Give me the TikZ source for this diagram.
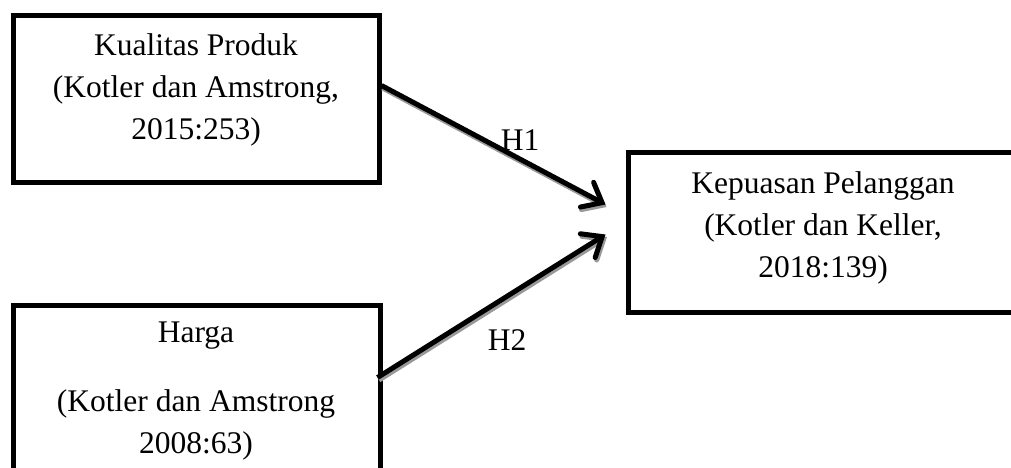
\documentclass[tikz,border=0pt]{standalone}
\usepackage{fontspec}
\setmainfont{Liberation Serif}
\usetikzlibrary{arrows.meta,calc}
\begin{document}
\begin{tikzpicture}[x=1pt,y=-1pt,
  box/.style={draw=black,line width=5pt,rectangle,inner sep=0pt},
  txt/.style={font=\fontsize{31.5}{42}\selectfont,align=center,inner sep=0pt,anchor=north},
  lbl/.style={font=\fontsize{31.5}{42}\selectfont,inner sep=0pt,anchor=base},
  conn/.style={line width=5pt,-{Straight Barb[length=17pt,width=28pt,line cap=round]}},
  shad/.style={line width=5pt,draw=black!40,-{Straight Barb[length=17pt,width=28pt,line cap=round]}}]
\useasboundingbox (0,0) rectangle (1011,467);
\clip (0,0) rectangle (1011,467);
% boxes
\node[box,minimum width=366pt,minimum height=167pt] (b1) at (196,98.5) {};
\node[box,minimum width=367pt,minimum height=200pt] (b2) at (196.5,405) {};
\node[box,minimum width=402pt,minimum height=160pt] (b3) at (829,232) {};
% texts
\node[txt] (t1) at (196,33.5) {Kualitas Produk\\(Kotler dan Amstrong,\\2015:253)};
\node[txt] (t2a) at (196,322) {Harga};
\node[txt] (t2b) at (196,389.5) {(Kotler dan Amstrong\\2008:63)};
\node[txt] (t3) at (823,171.5) {Kepuasan Pelanggan\\(Kotler dan Keller,\\2018:139)};
% connector endpoints
\coordinate (s1) at ($(b1.north east)+(0,73)$);
\coordinate (s2) at ($(b2.north west)+(367,75)$);
\coordinate (e1) at ($(b3.north west)+(-20,55)$);
\coordinate (e2) at ($(b3.north west)+(-20,85)$);
% shadows
\draw[shad] ($(s1)+(1,2.5)$) -- ($(e1)+(1,2.5)$);
\draw[shad] ($(s2)+(1.5,2.5)$) -- ($(e2)+(1.5,2.5)$);
% connectors
\draw[conn] (s1) -- (e1);
\draw[conn] (s2) -- (e2);
% labels
\node[lbl] (h1) at (520,150) {H1};
\node[lbl] (h2) at (507,350) {H2};
\end{tikzpicture}
\end{document}
